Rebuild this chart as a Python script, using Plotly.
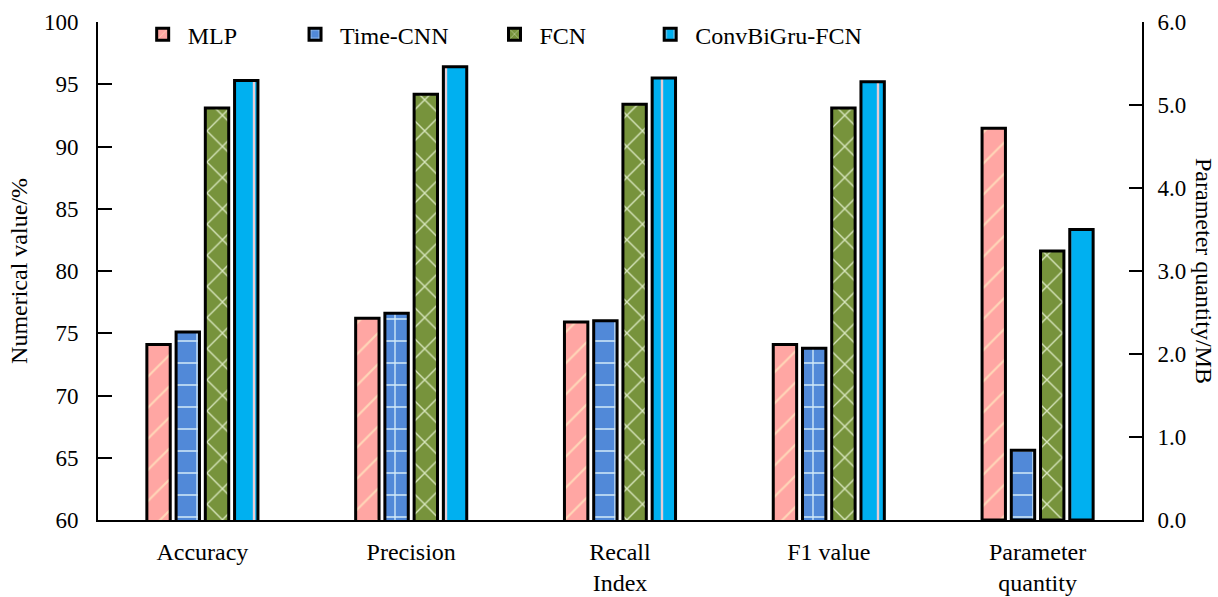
import plotly.graph_objects as go

# Metric categories along the x axis
metrics = ["Accuracy", "Precision", "Recall<br>Index", "F1 value", "Parameter<br>quantity"]
models = ["MLP", "Time-CNN", "FCN", "ConvBiGru-FCN"]

# Percent metrics (left axis) for the first four categories
mlp_pct = [74.1, 76.2, 75.9, 74.1]
tcnn_pct = [75.1, 76.6, 76.0, 73.8]
fcn_pct = [93.1, 94.2, 93.4, 93.1]
conv_pct = [95.3, 96.4, 95.5, 95.2]

# Parameter quantity in MB (right axis)
param_mb = [4.72, 0.84, 3.24, 3.50]

pct_series = [mlp_pct, tcnn_pct, fcn_pct, conv_pct]

styles = [
    dict(bg="#FFA6A3", fg="#FFD6B8", shape="/", size=22, solidity=0.1),
    dict(bg="#5189D8", fg="#D2EAF8", shape="+", size=22, solidity=0.12),
    dict(bg="#77933C", fg="#D8E6BE", shape="x", size=22, solidity=0.12),
    dict(bg="#00B0F0", fg="#E6CCD6", shape="|", size=24, solidity=0.1),
]

# trailing no-break spaces widen the legend entries so they spread across the top
legend_pad = [8, 6, 9, 0]

FONT = "Liberation Serif"
TICK_FS = 23
LABEL_FS = 24

fig = go.Figure()
for i, (name, vals, st) in enumerate(zip(models, pct_series, styles)):
    marker = dict(
        color=st["bg"],
        line=dict(color="black", width=3),
        pattern=dict(shape=st["shape"], fgcolor=st["fg"], bgcolor=st["bg"],
                     size=st["size"], solidity=st["solidity"], fillmode="overlay",
                     fgopacity=1),
    )
    shown = name + "\u00a0" * legend_pad[i]
    fig.add_trace(go.Bar(
        x=metrics[:4], y=vals, name=shown, marker=marker,
        offsetgroup=name, alignmentgroup="all", yaxis="y", legendgroup=name,
    ))
    fig.add_trace(go.Bar(
        x=[metrics[4]], y=[param_mb[i]], name=shown, marker=marker,
        offsetgroup=name, alignmentgroup="all", yaxis="y2", legendgroup=name,
        showlegend=False,
    ))

fig.update_layout(
    width=1218, height=597,
    margin=dict(l=98, r=76, t=20, b=77),
    plot_bgcolor="white", paper_bgcolor="white",
    font=dict(family=FONT, size=LABEL_FS, color="black"),
    barmode="group", bargap=0.44, bargroupgap=0.2,
    showlegend=True,
    legend=dict(orientation="h", x=0.038, y=1.02, xanchor="left", yanchor="top",
                font=dict(family=FONT, size=LABEL_FS), bgcolor="rgba(0,0,0,0)",
                itemwidth=40, tracegroupgap=0),
    xaxis=dict(
        type="category", showline=True, linecolor="black", linewidth=2,
        ticks="", showgrid=False, zeroline=False, mirror=False, automargin=False,
        tickfont=dict(family=FONT, size=LABEL_FS), ticklabelstandoff=9,
    ),
    yaxis=dict(
        range=[60, 100], dtick=5, showline=True, linecolor="black", linewidth=2,
        ticks="inside", ticklen=14, tickwidth=2, tickcolor="black", automargin=False,
        showgrid=False, zeroline=False, tickfont=dict(family=FONT, size=TICK_FS),
        ticklabelstandoff=13,
        title=dict(text="Numerical value/%", font=dict(family=FONT, size=LABEL_FS),
                   standoff=10),
    ),
    yaxis2=dict(
        range=[0, 6], dtick=1, tickformat=".1f", overlaying="y", side="right",
        showline=True, linecolor="black", linewidth=2, automargin=False,
        ticks="inside", ticklen=13, tickwidth=2, tickcolor="black",
        showgrid=False, zeroline=False, tickfont=dict(family=FONT, size=TICK_FS),
        ticklabelstandoff=9,
    ),
    annotations=[dict(
        text="Parameter quantity/MB", textangle=90, xref="paper", yref="paper",
        x=1.0, y=0.5, xanchor="left", yanchor="middle", xshift=47,
        showarrow=False, font=dict(family=FONT, size=LABEL_FS),
    )],
)

fig.write_html("out.html")
